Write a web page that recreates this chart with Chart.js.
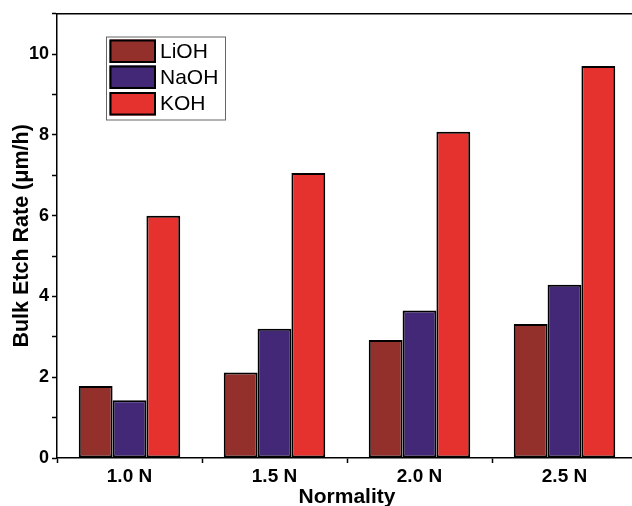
<!DOCTYPE html>
<html>
<head>
<meta charset="utf-8">
<script src="https://cdn.jsdelivr.net/npm/chart.js@4/dist/chart.umd.min.js"></script>
<style>
  html, body { margin: 0; padding: 0; background: #fff; overflow: hidden; }
  #wrap { width: 640px; height: 506px; }
</style>
</head>
<body>
<div id="wrap"><canvas id="c" width="640" height="506"></canvas></div>
<script>
const categories = ['1.0 N', '1.5 N', '2.0 N', '2.5 N'];
const seriesNames = ['LiOH', 'NaOH', 'KOH'];
const lioh = [1.78, 2.12, 2.92, 3.32];
const naoh = [1.43, 3.20, 3.65, 4.29];
const koh  = [6.00, 7.06, 8.08, 9.71];
const seriesColors = ['#94302C', '#432878', '#E5322E'];
const yMin = 0, yMax = 11, yStep = 1;
const xTitle = 'Normality';
const yTitle = 'Bulk Etch Rate (\u03bcm/h)';

const FONT = '"Liberation Sans", Arial, Helvetica, sans-serif';

const framePlugin = {
  id: 'frame',
  afterDraw(chart) {
    const ctx = chart.ctx, a = chart.chartArea;
    ctx.save();
    ctx.strokeStyle = '#000';
    ctx.lineWidth = 1.5;
    ctx.beginPath();
    ctx.moveTo(a.left - 0.75, a.top);
    ctx.lineTo(a.right, a.top);
    ctx.stroke();
    // legend
    const bx = 106, by = 36.5, bw = 119, bh = 83;
    ctx.fillStyle = '#fff';
    ctx.fillRect(bx, by, bw, bh);
    ctx.strokeStyle = '#666';
    ctx.lineWidth = 1;
    ctx.strokeRect(bx + 0.5, by + 0.5, bw, bh);
    const rowTops = [39.5, 65.5, 92];
    chart.data.datasets.forEach((ds, i) => {
      const y = rowTops[i];
      ctx.fillStyle = ds.backgroundColor;
      ctx.fillRect(109.5, y, 46.5, 23.5);
      ctx.strokeStyle = '#000';
      ctx.lineWidth = 2;
      ctx.strokeRect(110.5, y + 1, 44.5, 21.5);
      ctx.fillStyle = '#000';
      ctx.font = '21px ' + FONT;
      ctx.textBaseline = 'middle';
      ctx.textAlign = 'left';
      ctx.fillText(ds.label, 160, y + 12.5);
    });
    ctx.restore();
  }
};

new Chart(document.getElementById('c'), {
  type: 'bar',
  data: {
    labels: categories,
    datasets: [
      { label: seriesNames[0], data: lioh, backgroundColor: seriesColors[0] },
      { label: seriesNames[1], data: naoh, backgroundColor: seriesColors[1] },
      { label: seriesNames[2], data: koh,  backgroundColor: seriesColors[2] }
    ].map(d => Object.assign(d, { borderColor: '#000', borderWidth: 2, borderSkipped: false, categoryPercentage: 0.7, barPercentage: 1.0 }))
  },
  options: {
    responsive: false,
    animation: false,
    layout: { padding: { left: 0, right: 3, top: 11, bottom: 0 } },
    plugins: { legend: { display: false }, tooltip: { enabled: false } },
    scales: {
      x: {
        offset: true,
        grid: { display: true, drawOnChartArea: false, drawTicks: true, tickLength: 5, tickWidth: 1.5, tickColor: '#000', offset: true },
        border: { display: true, color: '#000', width: 1.5 },
        ticks: { color: '#000', font: { family: FONT, size: 19, weight: 'bold' }, padding: 2, maxRotation: 0 },
        title: { display: true, text: xTitle, color: '#000', font: { family: FONT, size: 21, weight: 'bold' }, padding: { top: 0, bottom: -4 } },
        afterFit(s) { s.height = 48; }
      },
      y: {
        min: yMin, max: yMax,
        grid: { display: true, drawOnChartArea: false, drawTicks: true, tickLength: 5, tickWidth: 1.5, tickColor: '#000' },
        border: { display: true, color: '#000', width: 1.5 },
        ticks: { stepSize: yStep, color: '#000', font: { family: FONT, size: 18, weight: 'bold' }, padding: 3,
                 callback: v => (v % 2 === 0 ? String(v) : '') },
        title: { display: true, text: yTitle, color: '#000', font: { family: FONT, size: 21.5, weight: 'bold' }, padding: { top: 9, bottom: 0 } },
        afterFit(s) { s.width = 57; }
      }
    }
  },
  plugins: [framePlugin]
});
</script>
</body>
</html>
